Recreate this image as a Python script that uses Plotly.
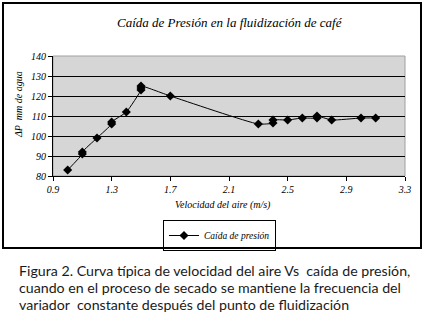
import plotly.graph_objects as go

velocidad = [1.0, 1.1, 1.1, 1.2, 1.3, 1.3, 1.4, 1.5, 1.5, 1.5, 1.7, 2.3, 2.4, 2.4, 2.5, 2.6, 2.7, 2.7, 2.8, 3.0, 3.1]
caida = [83, 91, 92, 99, 106, 107, 112, 123, 124, 125, 120, 106, 106.5, 108, 108, 109, 109, 110, 108, 109, 109]
x_ticks = [0.9, 1.3, 1.7, 2.1, 2.5, 2.9, 3.3]
y_ticks = [80, 90, 100, 110, 120, 130, 140]

serif = "Liberation Serif"
W, H = 424, 317
L, R, T, B = 53, 405, 56, 176

def px(xp):
    return xp / W

def py(yp):
    return 1 - yp / H

fig = go.Figure()
fig.add_trace(go.Scatter(
    x=velocidad, y=caida, mode="lines+markers", name="Caída de presión",
    line=dict(color="black", width=1, shape="spline", smoothing=0.5),
    marker=dict(symbol="diamond", size=7, color="black"),
))

fig.update_layout(
    width=W, height=H,
    margin=dict(l=0, r=0, t=0, b=0, autoexpand=False),
    paper_bgcolor="white", plot_bgcolor="#d6d6d6",
    showlegend=True,
    legend=dict(
        x=px(163), y=py(220), xanchor="left", yanchor="top",
        bordercolor="black", borderwidth=1, bgcolor="white",
        font=dict(family=serif, size=9.5, color="black", style="italic"),
        itemwidth=30, tracegroupgap=0,
    ),
    xaxis=dict(
        domain=[px(L), px(R)],
        range=[0.9, 3.3], tickvals=x_ticks, ticktext=[str(v) for v in x_ticks],
        showgrid=False, zeroline=False, showline=True, linecolor="black", linewidth=1,
        ticks="outside", ticklen=4, tickcolor="black",
        tickfont=dict(family=serif, size=10, color="black", style="italic"),
    ),
    yaxis=dict(
        domain=[py(B), py(T)],
        range=[80, 140], tickvals=y_ticks,
        showgrid=True, gridcolor="black", gridwidth=1, zeroline=False,
        showline=True, linecolor="black", linewidth=1,
        ticks="outside", ticklen=4, tickcolor="black",
        tickfont=dict(family=serif, size=10, color="black", style="italic"),
    ),
)

# plot-area right border
fig.add_shape(type="rect", xref="x domain", yref="y domain", x0=0, x1=1, y0=0, y1=1,
              line=dict(color="#a0a0a0", width=1), layer="below")
# outer chart frame (shape plus a bordered empty annotation box at the same place)
fig.add_shape(type="rect", xref="paper", yref="paper",
              x0=px(3), x1=px(421), y0=py(248), y1=py(3),
              line=dict(color="black", width=2))
fig.add_annotation(text=" ", xref="paper", yref="paper", x=px(212), y=py(125.5),
                   xanchor="center", yanchor="middle", showarrow=False,
                   width=416, height=243, borderpad=0,
                   bordercolor="black", borderwidth=2, bgcolor="rgba(0,0,0,0)")

fig.add_annotation(text="Caída de Presión en la fluidización de café", xref="paper", yref="paper",
                   x=px(230), y=py(22), xanchor="center", yanchor="middle", showarrow=False,
                   font=dict(family=serif, size=13, color="black", style="italic"))
fig.add_annotation(text="Velocidad del aire (m/s)", xref="paper", yref="paper",
                   x=px(223), y=py(205), xanchor="center", yanchor="middle", showarrow=False,
                   font=dict(family=serif, size=10, color="black", style="italic"))
fig.add_annotation(text="ΔP  mm de agua", xref="paper", yref="paper", textangle=-90,
                   x=px(19), y=py(105), xanchor="center", yanchor="middle", showarrow=False,
                   font=dict(family=serif, size=10, color="black", style="italic"))

caption = [
    "Figura 2. Curva típica de velocidad del aire Vs  caída de presión,",
    "cuando en el proceso de secado se mantiene la frecuencia del",
    "variador  constante después del punto de fluidización",
]
for i, line in enumerate(caption):
    fig.add_annotation(text=line, xref="paper", yref="paper", xanchor="left", yanchor="middle",
                       x=px(17), y=py(270 + 17 * i), showarrow=False,
                       font=dict(family="Lato", size=14.2, color="#1a1a1a"))

fig.write_html("out.html", config={"displayModeBar": False},
               post_script="document.body.style.margin='0';")
